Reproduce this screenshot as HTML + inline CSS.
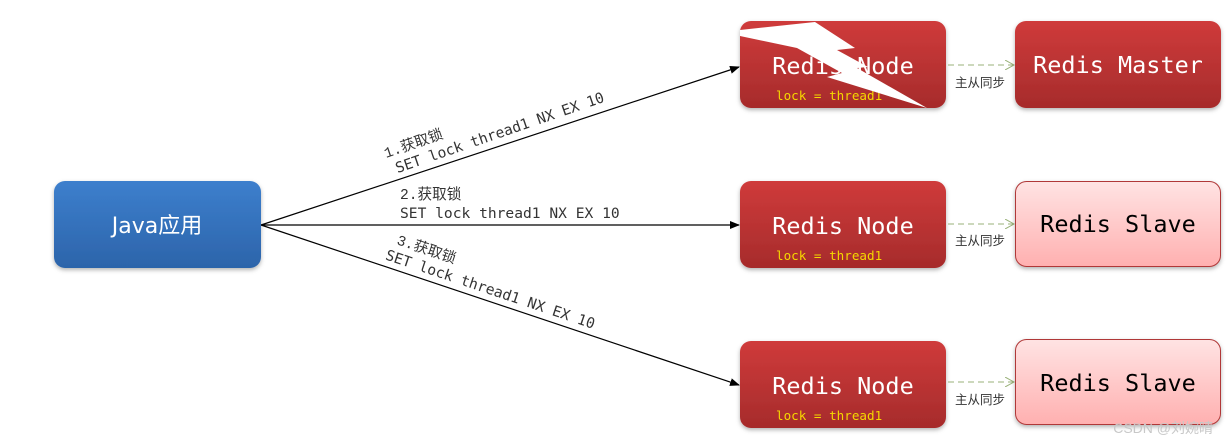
<!DOCTYPE html>
<html><head><meta charset="utf-8"><style>
html,body{margin:0;padding:0;background:#fff;}
svg{display:block;}
</style></head><body>
<svg width="1229" height="446" viewBox="0 0 1229 446" xmlns="http://www.w3.org/2000/svg">
<defs>
<linearGradient id="red" x1="0" y1="0" x2="0" y2="1"><stop offset="0" stop-color="#cf3b3b"/><stop offset="1" stop-color="#a62b2b"/></linearGradient>
<linearGradient id="blue" x1="0" y1="0" x2="0" y2="1"><stop offset="0" stop-color="#3d7fcd"/><stop offset="1" stop-color="#2c64aa"/></linearGradient>
<linearGradient id="pink" x1="0" y1="0" x2="0" y2="1"><stop offset="0" stop-color="#ffe3e3"/><stop offset="1" stop-color="#ffb0b0"/></linearGradient>
<filter id="sh" x="-10%" y="-10%" width="120%" height="130%"><feDropShadow dx="0" dy="2" stdDeviation="2" flood-color="#000" flood-opacity="0.3"/></filter>
<marker id="ah" markerWidth="10" markerHeight="8" refX="9" refY="4" orient="auto" markerUnits="userSpaceOnUse"><path d="M0,0 L10,4 L0,8 z" fill="#000"/></marker>
<marker id="gh" markerWidth="10" markerHeight="10" refX="9" refY="5" orient="auto" markerUnits="userSpaceOnUse"><path d="M0,0 L9,5 L0,10" fill="none" stroke="#9ab27a" stroke-width="1"/></marker>
</defs>
<g font-family="'DejaVu Sans Mono','Noto Sans CJK SC',monospace">
<line x1="261" y1="225" x2="739" y2="67" stroke="#000" stroke-width="1.2" marker-end="url(#ah)"/>
<line x1="261" y1="225" x2="739" y2="225" stroke="#000" stroke-width="1.2" marker-end="url(#ah)"/>
<line x1="261" y1="225" x2="739" y2="385" stroke="#000" stroke-width="1.2" marker-end="url(#ah)"/>
<g transform="translate(386,158) rotate(-19)" font-size="14.6" fill="#333">
<text x="0" y="0" font-family="'Liberation Mono','Noto Sans CJK SC',monospace">1.获取锁</text>
<text x="6" y="18">SET lock thread1 NX EX 10</text></g>
<text x="400" y="199" font-size="14.6" fill="#333" font-family="'Liberation Mono','Noto Sans CJK SC',monospace">2.获取锁</text>
<text x="400" y="218" font-size="14.6" fill="#333">SET lock thread1 NX EX 10</text>
<g transform="translate(396,244) rotate(18.5)" font-size="14.6" fill="#333">
<text x="0" y="0" font-family="'Liberation Mono','Noto Sans CJK SC',monospace">3.获取锁</text>
<text x="-6" y="18">SET lock thread1 NX EX 10</text></g>
<rect x="54" y="181" width="207" height="87" rx="11" fill="url(#blue)" filter="url(#sh)"/>
<text x="157" y="233" font-size="22" fill="#fff" text-anchor="middle" font-family="'DejaVu Sans','Noto Sans CJK SC',sans-serif">Java应用</text>
<rect x="740" y="21" width="206" height="87" rx="11" fill="url(#red)" filter="url(#sh)"/>
<text x="843" y="74" font-size="23.5" fill="#fff" text-anchor="middle">Redis Node</text>
<text x="776" y="100" font-size="12.6" fill="#f5d800">lock = thread1</text>
<polygon points="740,30 815,22 855,48 837,50 868,67 857,68 927,108 827,77 842,73 797,48 740,36" fill="#fff"/>
<rect x="740" y="181" width="206" height="87" rx="11" fill="url(#red)" filter="url(#sh)"/>
<text x="843" y="234" font-size="23.5" fill="#fff" text-anchor="middle">Redis Node</text>
<text x="776" y="260" font-size="12.6" fill="#f5d800">lock = thread1</text>
<rect x="740" y="341" width="206" height="87" rx="11" fill="url(#red)" filter="url(#sh)"/>
<text x="843" y="394" font-size="23.5" fill="#fff" text-anchor="middle">Redis Node</text>
<text x="776" y="420" font-size="12.6" fill="#f5d800">lock = thread1</text>
<line x1="948" y1="65" x2="1014" y2="65" stroke="#9ab27a" stroke-dasharray="6,4" marker-end="url(#gh)"/>
<line x1="948" y1="224" x2="1014" y2="224" stroke="#9ab27a" stroke-dasharray="6,4" marker-end="url(#gh)"/>
<line x1="948" y1="382" x2="1014" y2="382" stroke="#9ab27a" stroke-dasharray="6,4" marker-end="url(#gh)"/>
<g font-size="12.5" fill="#333" font-family="'Noto Sans CJK SC',sans-serif">
<text x="955" y="87">主从同步</text>
<text x="955" y="245">主从同步</text>
<text x="955" y="404">主从同步</text>
</g>
<rect x="1015" y="21" width="206" height="87" rx="11" fill="url(#red)" filter="url(#sh)"/>
<text x="1118" y="73" font-size="23.5" fill="#fff" text-anchor="middle">Redis Master</text>
<rect x="1015.5" y="181.5" width="205" height="85" rx="11" fill="url(#pink)" stroke="#b03838" stroke-width="1" filter="url(#sh)"/>
<text x="1118" y="232" font-size="23.5" fill="#000" text-anchor="middle">Redis Slave</text>
<rect x="1015.5" y="339.5" width="205" height="85" rx="11" fill="url(#pink)" stroke="#b03838" stroke-width="1" filter="url(#sh)"/>
<text x="1118" y="391" font-size="23.5" fill="#000" text-anchor="middle">Redis Slave</text>
<text x="1213" y="433" font-size="14" fill="#c8c8c8" text-anchor="end" font-family="'Liberation Sans','Noto Sans CJK SC',sans-serif">CSDN @刘婉晴</text>
</g>
</svg>
</body></html>
